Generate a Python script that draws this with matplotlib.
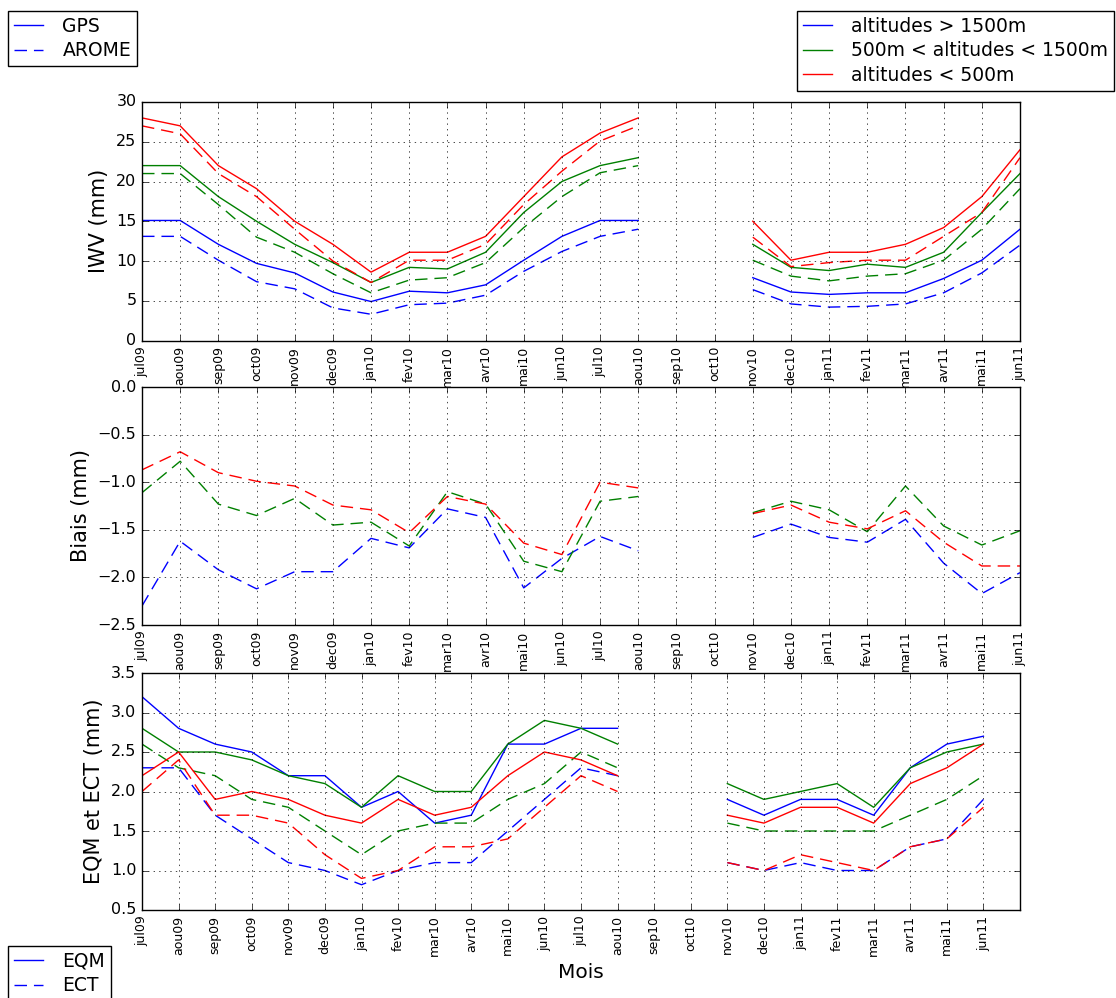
import numpy as np
import matplotlib
matplotlib.use("Agg")
import matplotlib.pyplot as plt
from matplotlib.lines import Line2D

nan = np.nan

mois = ["jul09", "aou09", "sep09", "oct09", "nov09", "dec09", "jan10", "fev10",
        "mar10", "avr10", "mai10", "jun10", "jul10", "aou10", "sep10", "oct10",
        "nov10", "dec10", "jan11", "fev11", "mar11", "avr11", "mai11", "jun11"]

# IWV (mm) : GPS (trait plein) et AROME (tirets)
gps_high = [15.1, 15.1, 12.1, 9.7, 8.5, 6.1, 4.9, 6.2, 6.0, 7.0, 10.1, 13.1, 15.1, 15.1,
            nan, nan, 7.9, 6.1, 5.8, 6.0, 6.0, 7.8, 10.1, 14.0]
arome_high = [13.1, 13.1, 10.1, 7.4, 6.5, 4.1, 3.3, 4.5, 4.7, 5.7, 8.7, 11.2, 13.1, 14.0,
              nan, nan, 6.4, 4.6, 4.2, 4.3, 4.6, 6.0, 8.5, 12.0]
gps_mid = [22.0, 22.0, 18.1, 15.0, 12.1, 9.8, 7.3, 9.2, 9.0, 11.1, 16.1, 20.0, 22.0, 23.0,
           nan, nan, 12.1, 9.2, 8.8, 9.6, 9.2, 11.1, 16.1, 21.0]
arome_mid = [21.0, 21.0, 17.1, 13.0, 11.1, 8.4, 6.0, 7.6, 7.9, 9.8, 14.2, 18.1, 21.1, 22.0,
             nan, nan, 10.1, 8.1, 7.5, 8.1, 8.4, 10.1, 14.0, 19.1]
gps_low = [28.0, 27.0, 22.0, 19.1, 15.0, 12.1, 8.6, 11.1, 11.1, 13.1, 18.1, 23.1, 26.1, 28.0,
           nan, nan, 15.0, 10.1, 11.1, 11.1, 12.1, 14.2, 18.1, 24.0]
arome_low = [27.0, 26.0, 21.0, 18.1, 14.0, 10.0, 7.3, 10.1, 10.1, 12.1, 17.1, 21.3, 25.1, 27.0,
             nan, nan, 13.0, 9.3, 9.8, 10.1, 10.1, 13.1, 16.1, 23.0]

# Biais (mm)
biais_high = [-2.30, -1.62, -1.92, -2.12, -1.94, -1.94, -1.59, -1.69, -1.28, -1.37, -2.11, -1.80,
              -1.57, -1.72, nan, nan, -1.58, -1.44, -1.58, -1.63, -1.39, -1.85, -2.17, -1.95]
biais_mid = [-1.11, -0.78, -1.23, -1.35, -1.17, -1.45, -1.42, -1.67, -1.10, -1.23, -1.83, -1.94,
             -1.20, -1.15, nan, nan, -1.32, -1.20, -1.29, -1.52, -1.04, -1.46, -1.66, -1.51]
biais_low = [-0.87, -0.68, -0.90, -0.99, -1.04, -1.24, -1.29, -1.53, -1.15, -1.23, -1.64, -1.76,
             -1.00, -1.06, nan, nan, -1.33, -1.24, -1.42, -1.49, -1.30, -1.63, -1.88, -1.88]

# EQM (trait plein) et ECT (tirets)
eqm_high = [3.2, 2.8, 2.6, 2.5, 2.2, 2.2, 1.8, 2.0, 1.6, 1.7, 2.6, 2.6, 2.8, 2.8,
            nan, nan, 1.9, 1.7, 1.9, 1.9, 1.7, 2.3, 2.6, 2.7]
ect_high = [2.3, 2.3, 1.7, 1.4, 1.1, 1.0, 0.82, 1.0, 1.1, 1.1, 1.5, 1.9, 2.3, 2.2,
            nan, nan, 1.1, 1.0, 1.1, 1.0, 1.0, 1.3, 1.4, 1.9]
eqm_mid = [2.8, 2.5, 2.5, 2.4, 2.2, 2.1, 1.8, 2.2, 2.0, 2.0, 2.6, 2.9, 2.8, 2.6,
           nan, nan, 2.1, 1.9, 2.0, 2.1, 1.8, 2.3, 2.5, 2.6]
ect_mid = [2.6, 2.3, 2.2, 1.9, 1.8, 1.5, 1.2, 1.5, 1.6, 1.6, 1.9, 2.1, 2.5, 2.3,
           nan, nan, 1.6, 1.5, 1.5, 1.5, 1.5, 1.7, 1.9, 2.2]
eqm_low = [2.2, 2.5, 1.9, 2.0, 1.9, 1.7, 1.6, 1.9, 1.7, 1.8, 2.2, 2.5, 2.4, 2.2,
           nan, nan, 1.7, 1.6, 1.8, 1.8, 1.6, 2.1, 2.3, 2.6]
ect_low = [2.0, 2.4, 1.7, 1.7, 1.6, 1.2, 0.9, 1.0, 1.3, 1.3, 1.4, 1.8, 2.2, 2.0,
           nan, nan, 1.1, 1.0, 1.2, 1.1, 1.0, 1.3, 1.4, 1.8]

plt.style.use("classic")
plt.rcParams["font.family"] = ["DejaVu Sans"]

DASH = (0, (9, 5))
W, H = 1116, 998


def rect(top, bottom):
    return [142 / W, 1 - bottom / H, 878 / W, (bottom - top) / H]


def setup(ax, xmax):
    ax.set_xlim(0, xmax)
    ax.set_xticks(range(len(mois)))
    ax.set_xticklabels(mois, rotation=90, fontsize=9)
    ax.tick_params(axis="y", labelsize=11.5)
    ax.grid(True)


fig = plt.figure(figsize=(W / 100, H / 100), dpi=100, facecolor="white")
x = np.arange(len(mois))

ax1 = fig.add_axes(rect(102, 340.5))
for gps, aro, c in [(gps_high, arome_high, "b"), (gps_mid, arome_mid, "g"), (gps_low, arome_low, "r")]:
    ax1.plot(x, gps, color=c, lw=1)
    ax1.plot(x, aro, color=c, lw=1, linestyle=DASH)
setup(ax1, 23)
ax1.set_ylim(0, 30)
ax1.set_ylabel("IWV (mm)", fontsize=15)

ax2 = fig.add_axes(rect(387, 625))
for b, c in [(biais_high, "b"), (biais_mid, "g"), (biais_low, "r")]:
    ax2.plot(x, b, color=c, lw=1, linestyle=DASH)
setup(ax2, 23)
ax2.set_ylim(-2.5, 0)
ax2.set_ylabel("Biais (mm)", fontsize=15)

ax3 = fig.add_axes(rect(673, 910))
for e, s, c in [(eqm_high, ect_high, "b"), (eqm_mid, ect_mid, "g"), (eqm_low, ect_low, "r")]:
    ax3.plot(x, e, color=c, lw=1)
    ax3.plot(x, s, color=c, lw=1, linestyle=DASH)
setup(ax3, 24)
ax3.set_ylim(0.5, 3.5)
ax3.set_ylabel("EQM et ECT (mm)", fontsize=15)
ax3.set_xlabel("Mois", fontsize=14.5)

leg_kw = dict(loc="upper left", borderaxespad=0, fontsize=13.5, handlelength=1.55,
              handletextpad=1.05, labelspacing=0.3, borderpad=0.3,
              fancybox=False, frameon=True, numpoints=1)

fig.legend([Line2D([], [], color="b"), Line2D([], [], color="b", linestyle=DASH)],
           ["GPS", "AROME"], bbox_to_anchor=(8 / W, 1 - 11 / H), **leg_kw)
fig.legend([Line2D([], [], color="b"), Line2D([], [], color="g"), Line2D([], [], color="r")],
           ["altitudes > 1500m", "500m < altitudes < 1500m", "altitudes < 500m"],
           bbox_to_anchor=(797 / W, 1 - 11 / H), **leg_kw)
fig.legend([Line2D([], [], color="b"), Line2D([], [], color="b", linestyle=DASH)],
           ["EQM", "ECT"], bbox_to_anchor=(8 / W, 1 - 946 / H), **leg_kw)

fig.savefig("out.png", dpi=100, facecolor="white")
